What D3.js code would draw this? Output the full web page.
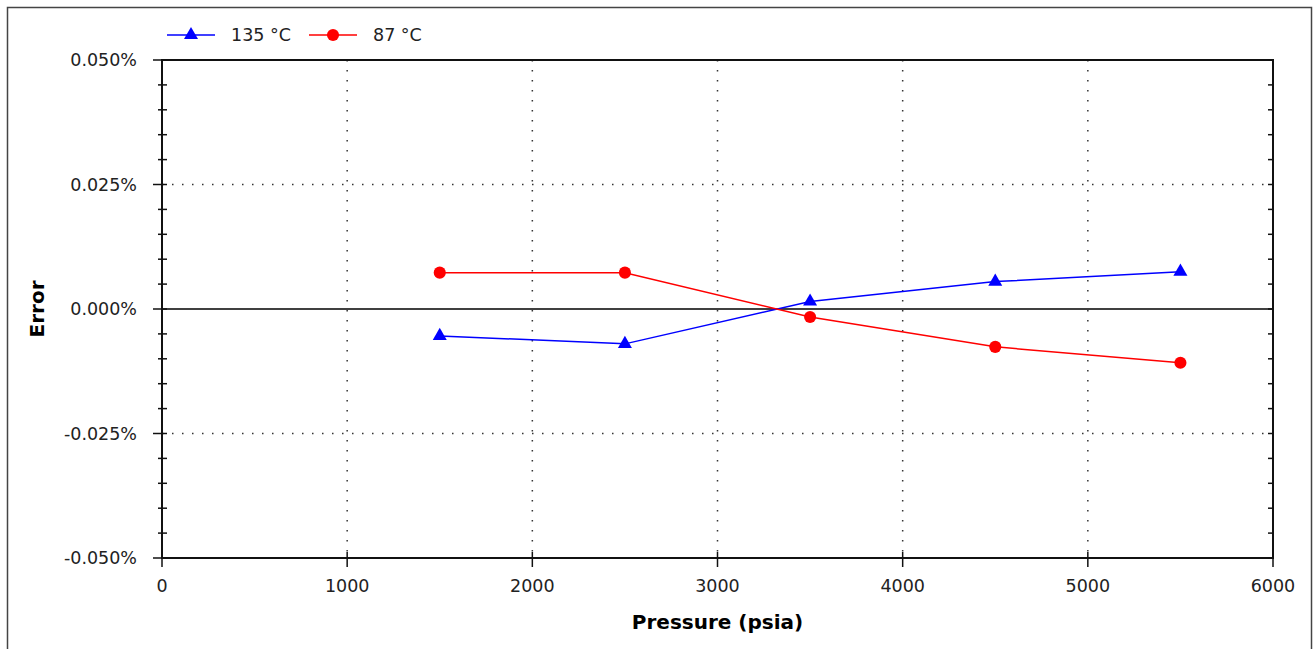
<!DOCTYPE html>
<html>
<head>
<meta charset="utf-8">
<script src="https://cdn.jsdelivr.net/npm/d3@7"></script>
<style>
  body { margin: 0; background: #fff; }
  svg { display: block; font-family: 'DejaVu Sans', sans-serif; }
</style>
</head>
<body>
<svg id="chart" width="1314" height="649"></svg>
<script>
// pressure points (psia)
const pressures = [1500, 2500, 3500, 4500, 5500];
// error in percent
const err135 = [-0.0054, -0.0070, 0.0015, 0.0055, 0.0075];
const err87 = [0.0073, 0.0073, -0.0016, -0.0076, -0.0108];
const seriesNames = ['135 °C', '87 °C'];
const xTicks = [0, 1000, 2000, 3000, 4000, 5000, 6000];
const yTicks = [-0.05, -0.025, 0, 0.025, 0.05];

const svg = d3.select('#chart');
const margin = { top: 60, right: 41, bottom: 91, left: 162 };
const width = 1314 - margin.left - margin.right,
  height = 649 - margin.top - margin.bottom;

// outer frame
svg.append('rect')
  .attr('x', 7.5).attr('y', 7.5)
  .attr('width', 1304).attr('height', 700)
  .attr('fill', 'none').attr('stroke', '#444').attr('stroke-width', 1.5);

const x = d3.scaleLinear().domain([0, 6000]).range([0, width]);
const y = d3.scaleLinear().domain([-0.05, 0.05]).range([height, 0]);

const g = svg.append('g')
  .attr('transform', 'translate(' + margin.left + ',' + margin.top + ')');

// dotted grid
g.selectAll('.vgrid')
  .data(xTicks.slice(1, -1))
  .join('line')
  .attr('x1', (d) => x(d)).attr('x2', (d) => x(d))
  .attr('y1', 0).attr('y2', height)
  .attr('stroke', '#333').attr('stroke-width', 1.5)
  .attr('stroke-dasharray', '1.5,8.5');

g.selectAll('.hgrid')
  .data([-0.025, 0.025])
  .join('line')
  .attr('x1', 0).attr('x2', width)
  .attr('y1', (d) => y(d)).attr('y2', (d) => y(d))
  .attr('stroke', '#333').attr('stroke-width', 1.5)
  .attr('stroke-dasharray', '1.5,8.5');

// zero line
g.append('line')
  .attr('x1', 0).attr('x2', width)
  .attr('y1', y(0)).attr('y2', y(0))
  .attr('stroke', '#000').attr('stroke-width', 1.5);

// frame of plot area
g.append('rect')
  .attr('width', width).attr('height', height)
  .attr('fill', 'none').attr('stroke', '#111').attr('stroke-width', 2);

// y ticks: minor every 0.005
const yMinor = d3.range(-0.05, 0.0501, 0.005).map((d) => +d.toFixed(3));
g.selectAll('.yminor')
  .data(yMinor)
  .join('line')
  .attr('x1', (d) => (yTicks.includes(d) ? -9 : -4))
  .attr('x2', 5)
  .attr('y1', (d) => y(d)).attr('y2', (d) => y(d))
  .attr('stroke', '#111').attr('stroke-width', 1.5);

g.selectAll('.yright')
  .data(yMinor)
  .join('line')
  .attr('x1', width - 5).attr('x2', width)
  .attr('y1', (d) => y(d)).attr('y2', (d) => y(d))
  .attr('stroke', '#111').attr('stroke-width', 1.5);

g.selectAll('.ylabel')
  .data(yTicks)
  .join('text')
  .attr('x', -25)
  .attr('y', (d) => y(d))
  .attr('dy', '0.36em')
  .attr('text-anchor', 'end')
  .attr('font-size', 17.5)
  .attr('fill', '#222')
  .text((d) => d.toFixed(3) + '%');

// x ticks
g.selectAll('.xtick')
  .data(xTicks)
  .join('line')
  .attr('x1', (d) => x(d)).attr('x2', (d) => x(d))
  .attr('y1', (d) => (d === 0 || d === 6000 ? height : height - 6))
  .attr('y2', height + 9)
  .attr('stroke', '#111').attr('stroke-width', 1.5);

g.selectAll('.xlabel')
  .data(xTicks)
  .join('text')
  .attr('x', (d) => x(d))
  .attr('y', height + 34)
  .attr('text-anchor', 'middle')
  .attr('font-size', 17.5)
  .attr('fill', '#222')
  .text((d) => d);

// axis titles
svg.append('text')
  .attr('x', margin.left + width / 2)
  .attr('y', 629)
  .attr('text-anchor', 'middle')
  .attr('font-size', 20)
  .attr('font-weight', 'bold')
  .text('Pressure (psia)');

svg.append('text')
  .attr('transform', 'translate(44,' + (margin.top + y(0)) + ') rotate(-90)')
  .attr('text-anchor', 'middle')
  .attr('font-size', 20)
  .attr('font-weight', 'bold')
  .text('Error');

// series
const series = [
  { name: seriesNames[0], values: err135, color: '#0000ff', shape: d3.symbolTriangle },
  { name: seriesNames[1], values: err87, color: '#ff0000', shape: d3.symbolCircle },
];

const line = d3.line()
  .x((d) => x(d[0]))
  .y((d) => y(d[1]));

series.forEach(function (s) {
  const pts = pressures.map((p, i) => [p, s.values[i]]);
  g.append('path')
    .datum(pts)
    .attr('d', line)
    .attr('fill', 'none')
    .attr('stroke', s.color)
    .attr('stroke-width', 1.5);
  g.selectAll(null)
    .data(pts)
    .join('path')
    .attr('transform', (d) => 'translate(' + x(d[0]) + ',' + y(d[1]) + ')')
    .attr('d', d3.symbol().type(s.shape).size(s.shape === d3.symbolCircle ? 115 : 85))
    .attr('fill', s.color);
});

// legend
const legend = svg.append('g');
const legendX = [167, 309];
series.forEach(function (s, i) {
  const lg = legend.append('g').attr('transform', 'translate(' + legendX[i] + ',35)');
  lg.append('line')
    .attr('x1', 0).attr('x2', 48)
    .attr('stroke', s.color).attr('stroke-width', 1.5);
  lg.append('path')
    .attr('transform', 'translate(24,0)')
    .attr('d', d3.symbol().type(s.shape).size(s.shape === d3.symbolCircle ? 115 : 85))
    .attr('fill', s.color);
  lg.append('text')
    .attr('x', 64)
    .attr('dy', '0.36em')
    .attr('font-size', 17.5)
    .attr('fill', '#222')
    .text(s.name);
});
</script>
</body>
</html>
